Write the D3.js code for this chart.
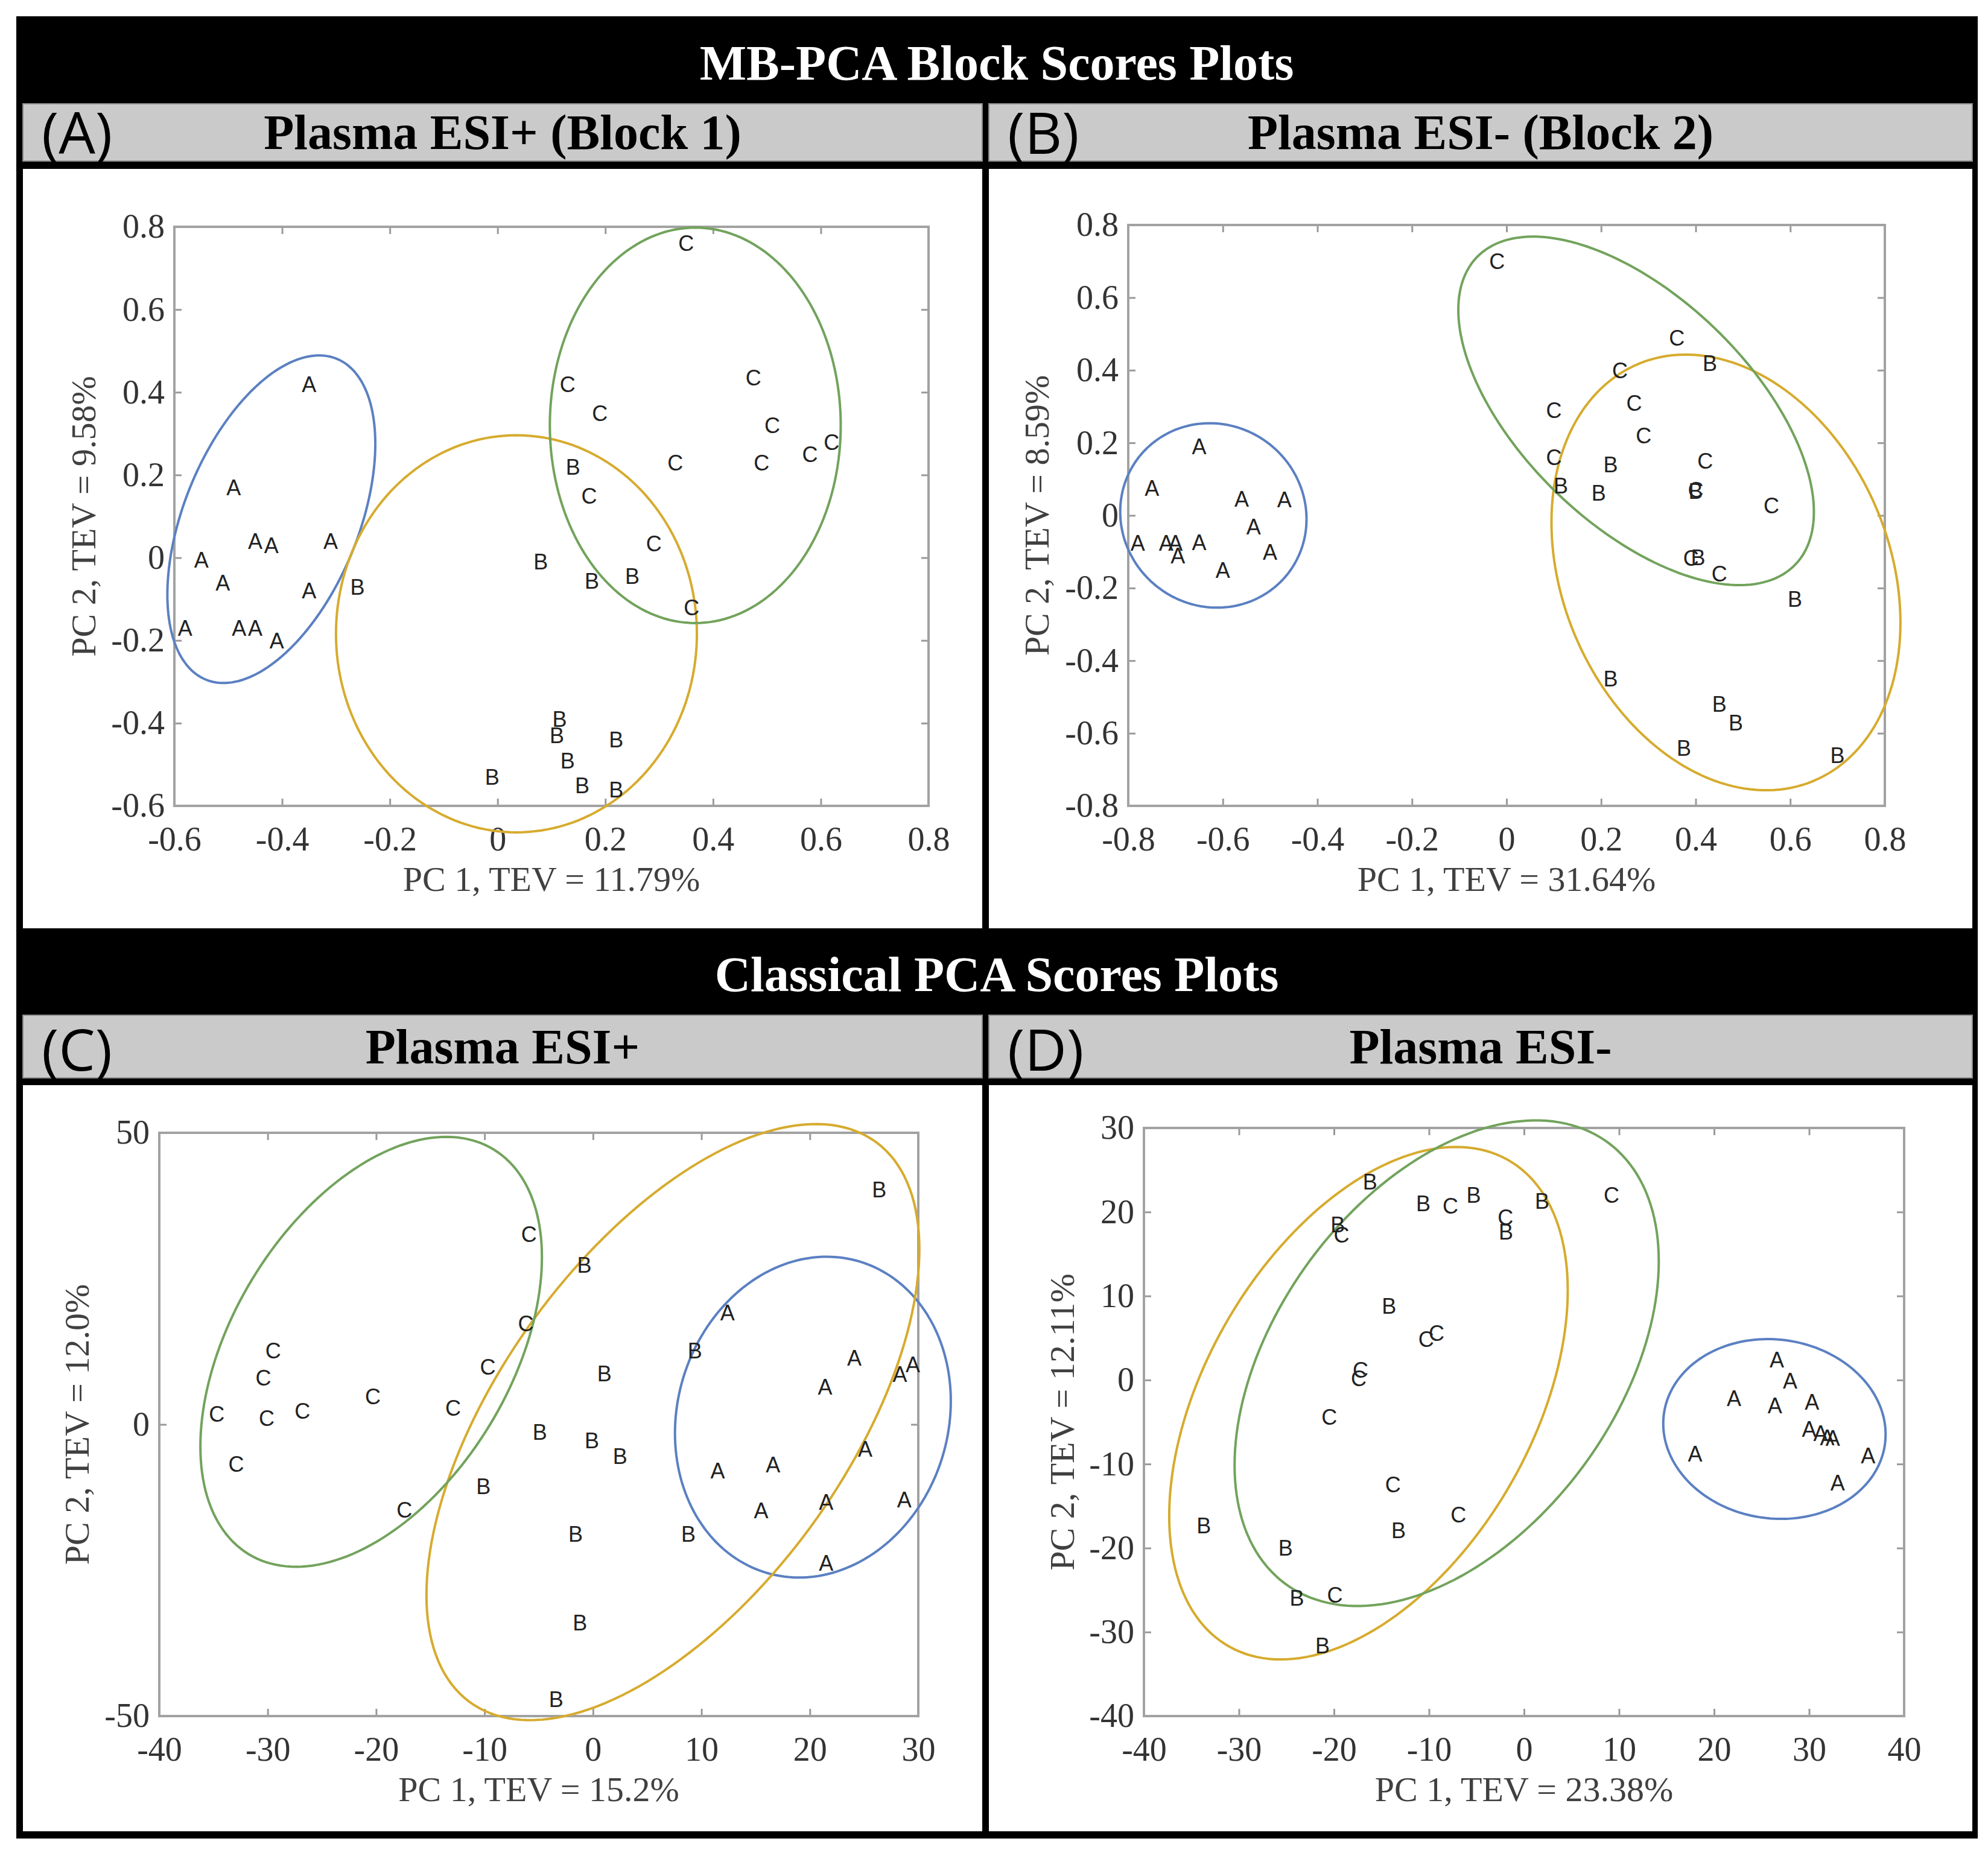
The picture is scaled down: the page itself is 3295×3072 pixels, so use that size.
<!DOCTYPE html>
<html>
<head>
<meta charset="utf-8">
<title>MB-PCA and Classical PCA Scores Plots</title>
<script src="https://d3js.org/d3.v7.min.js"></script>
<style>
  body { margin: 0; background: #fff; }
</style>
</head>
<body>
<svg id="fig" width="3295" height="3072"></svg>
<script>
// ---- data (letter centres) ----
// (A) MB-PCA, Plasma ESI+ (Block 1)
const blk1_A = [[-0.35,0.42],[-0.49,0.17],[-0.45,0.04],[-0.42,0.03],[-0.31,0.04],[-0.55,-0.005],[-0.51,-0.06],[-0.35,-0.08],[-0.58,-0.17],[-0.48,-0.17],[-0.45,-0.17],[-0.41,-0.20]];
const blk1_B = [[-0.26,-0.07],[0.08,-0.01],[0.14,0.22],[0.175,-0.056],[0.25,-0.044],[0.115,-0.39],[0.11,-0.43],[0.22,-0.44],[0.13,-0.49],[0.157,-0.55],[0.22,-0.56],[-0.01,-0.53]];
const blk1_C = [[0.35,0.76],[0.13,0.42],[0.19,0.35],[0.475,0.435],[0.51,0.32],[0.62,0.28],[0.58,0.25],[0.49,0.23],[0.33,0.23],[0.17,0.15],[0.29,0.035],[0.36,-0.12]];
// confidence ellipses: centre, half-width, half-height, correlation  (A, B, C groups)
const blk1_ell = [{cx:-0.42,cy:0.093,sx:0.193,sy:0.396,r:0.46},{cx:0.035,cy:-0.184,sx:0.335,sy:0.48,r:0.0},{cx:0.367,cy:0.32,sx:0.27,sy:0.478,r:0.0}];

// (B) MB-PCA, Plasma ESI- (Block 2)
const blk2_A = [[-0.65,0.19],[-0.75,0.075],[-0.56,0.046],[-0.47,0.044],[-0.535,-0.03],[-0.78,-0.075],[-0.72,-0.075],[-0.70,-0.075],[-0.695,-0.11],[-0.65,-0.074],[-0.50,-0.10],[-0.60,-0.15]];
const blk2_B = [[0.43,0.42],[0.22,0.14],[0.115,0.083],[0.195,0.062],[0.40,0.067],[0.405,-0.115],[0.61,-0.23],[0.22,-0.45],[0.45,-0.52],[0.485,-0.57],[0.375,-0.64],[0.70,-0.66]];
const blk2_C = [[-0.02,0.70],[0.36,0.49],[0.24,0.40],[0.10,0.29],[0.27,0.31],[0.29,0.22],[0.10,0.16],[0.42,0.15],[0.40,0.07],[0.56,0.027],[0.39,-0.118],[0.45,-0.16]];
const blk2_ell = [{cx:-0.62,cy:0.0,sx:0.197,sy:0.254,r:-0.04},{cx:0.464,cy:-0.157,sx:0.369,sy:0.60,r:-0.23},{cx:0.274,cy:0.288,sx:0.376,sy:0.48,r:-0.58}];

// (C) Classical PCA, Plasma ESI+
const cls1_A = [[12.4,19.2],[24.1,11.4],[21.4,6.5],[28.3,8.6],[29.5,10.3],[25.1,-4.2],[11.5,-7.9],[16.6,-6.9],[15.5,-14.7],[21.5,-13.3],[28.7,-12.9],[21.5,-23.7]];
const cls1_B = [[26.4,40.3],[-0.8,27.4],[9.4,12.7],[1.05,8.7],[-4.9,-1.3],[-0.1,-2.7],[2.5,-5.4],[-1.6,-18.8],[8.8,-18.8],[-1.2,-34.0],[-3.4,-47.1],[-10.1,-10.6]];
const cls1_C = [[-5.9,32.6],[-6.2,17.3],[-9.7,9.9],[-29.5,12.7],[-30.4,8.0],[-34.7,1.8],[-30.1,1.1],[-26.8,2.3],[-20.3,4.8],[-12.9,2.8],[-32.9,-6.8],[-17.4,-14.6]];
const cls1_ell = [{cx:20.28,cy:1.25,sx:12.72,sy:27.5,r:0.10},{cx:7.37,cy:0.4,sx:22.73,sy:51.1,r:0.58},{cx:-20.46,cy:12.45,sx:15.75,sy:36.85,r:0.44}];

// (D) Classical PCA, Plasma ESI-
const cls2_A = [[26.6,2.4],[28.0,-0.1],[22.1,-2.15],[26.4,-3.0],[30.3,-2.6],[30.0,-5.8],[31.2,-6.3],[31.9,-6.8],[32.5,-6.9],[18.0,-8.8],[36.2,-9.0],[33.0,-12.2]];
const cls2_B = [[-16.2,23.6],[-19.6,18.5],[-10.6,21.0],[-5.3,22.0],[-1.9,17.65],[1.9,21.3],[-14.2,8.8],[-13.2,-17.9],[-33.7,-17.3],[-25.1,-20.0],[-23.9,-25.9],[-21.2,-31.6]];
const cls2_C = [[-19.2,17.3],[-7.75,20.7],[-1.95,19.4],[9.2,22.0],[-10.3,4.9],[-9.2,5.6],[-17.4,0.2],[-17.2,1.2],[-20.5,-4.4],[-13.8,-12.4],[-6.9,-16.0],[-19.9,-25.6]];
const cls2_ell = [{cx:26.35,cy:-5.83,sx:11.7,sy:10.7,r:-0.06},{cx:-16.37,cy:-2.76,sx:20.97,sy:30.5,r:0.44},{cx:-8.14,cy:2.0,sx:22.32,sy:28.9,r:0.42}];

// ticks
const ticksA_x = [-0.6,-0.4,-0.2,0,0.2,0.4,0.6,0.8];
const ticksA_y = [-0.6,-0.4,-0.2,0,0.2,0.4,0.6,0.8];
const ticksB_x = [-0.8,-0.6,-0.4,-0.2,0,0.2,0.4,0.6,0.8];
const ticksB_y = [-0.8,-0.6,-0.4,-0.2,0,0.2,0.4,0.6,0.8];
const ticksC_x = [-40,-30,-20,-10,0,10,20,30];
const ticksC_y = [-50,0,50];
const ticksD_x = [-40,-30,-20,-10,0,10,20,30,40];
const ticksD_y = [-40,-30,-20,-10,0,10,20,30];

// text
const groupNames = ["A", "B", "C"];
const sectionTitles = ["MB-PCA Block Scores Plots", "Classical PCA Scores Plots"];
const panelTags = ["(A)", "(B)", "(C)", "(D)"];
const panelTitles = ["Plasma ESI+ (Block 1)", "Plasma ESI- (Block 2)", "Plasma ESI+", "Plasma ESI-"];
const xLabels = ["PC 1, TEV = 11.79%", "PC 1, TEV = 31.64%", "PC 1, TEV = 15.2%", "PC 1, TEV = 23.38%"];
const yLabels = ["PC 2, TEV = 9.58%", "PC 2, TEV = 8.59%", "PC 2, TEV = 12.0%", "PC 2, TEV = 12.11%"];

// ---- layout ----
const serif = "'Liberation Serif','Times New Roman',serif";
const sans = "'Liberation Sans',Arial,sans-serif";
const tagFont = "'Open Sans','Noto Sans',sans-serif";
const groupColors = ["#5b80c2", "#d6ab2e", "#72a35c"];

const svg = d3.select("#fig");
svg.append("rect").attr("width", 3295).attr("height", 3072).attr("fill", "#fff");
svg.append("rect").attr("x", 27).attr("y", 27).attr("width", 3251).attr("height", 3021).attr("fill", "#000");

const rows = [
    { titleY: 132, headTop: 172, headBot: 267, bodyTop: 280, bodyBot: 1539, tagY: 255, subY: 247 },
    { titleY: 1643, headTop: 1683, headBot: 1787, bodyTop: 1799, bodyBot: 3036, tagY: 1775, subY: 1763 }
];
const cols = [{ x0: 38, x1: 1628 }, { x0: 1639, x1: 3269 }];

rows.forEach(function (r, i) {
    svg.append("text")
        .attr("x", 1652).attr("y", r.titleY)
        .attr("text-anchor", "middle")
        .attr("font-family", serif).attr("font-weight", "bold").attr("font-size", 82)
        .attr("fill", "#fff")
        .text(sectionTitles[i]);
    cols.forEach(function (c) {
        svg.append("rect")
            .attr("x", c.x0).attr("y", r.headTop)
            .attr("width", c.x1 - c.x0).attr("height", r.headBot - r.headTop)
            .attr("fill", "#cacaca").attr("stroke", "#8a8a8a").attr("stroke-width", 2);
        svg.append("rect")
            .attr("x", c.x0).attr("y", r.bodyTop)
            .attr("width", c.x1 - c.x0).attr("height", r.bodyBot - r.bodyTop)
            .attr("fill", "#fff");
    });
});

// panel geometry
const panels = [
    { row: 0, col: 0, box: { l: 289, r: 1539, t: 376, b: 1336 }, xt: ticksA_x, yt: ticksA_y, groups: [blk1_A, blk1_B, blk1_C], ell: blk1_ell, yLabX: 137 },
    { row: 0, col: 1, box: { l: 1870, r: 3124, t: 373, b: 1336 }, xt: ticksB_x, yt: ticksB_y, groups: [blk2_A, blk2_B, blk2_C], ell: blk2_ell, yLabX: 1717 },
    { row: 1, col: 0, box: { l: 264, r: 1522, t: 1878, b: 2845 }, xt: ticksC_x, yt: ticksC_y, groups: [cls1_A, cls1_B, cls1_C], ell: cls1_ell, yLabX: 126 },
    { row: 1, col: 1, box: { l: 1896, r: 3156, t: 1870, b: 2845 }, xt: ticksD_x, yt: ticksD_y, groups: [cls2_A, cls2_B, cls2_C], ell: cls2_ell, yLabX: 1759 }
];

const fmt = d => String(d);

function ellipsePoints(e) {
    const delta = Math.acos(e.r);
    return d3.range(0, 361, 2).map(function (a) {
        const t = a * Math.PI / 180;
        return [e.cx + e.sx * Math.cos(t), e.cy + e.sy * Math.cos(t - delta)];
    });
}

function styleAxis(sel, showText) {
    sel.attr("font-family", serif).attr("font-size", 56).attr("color", "#333");
    sel.select(".domain").remove();
    sel.selectAll(".tick line").attr("stroke", "#9a9a9a").attr("stroke-width", 3);
    if (!showText) sel.selectAll(".tick text").remove();
}

panels.forEach(function (p, i) {
    const r = rows[p.row], c = cols[p.col], b = p.box;
    const g = svg.append("g");

    // header texts
    g.append("text")
        .attr("x", c.x0 + 31).attr("y", r.tagY)
        .attr("font-family", tagFont).attr("font-size", 96).attr("fill", "#000")
        .text(panelTags[i]);
    g.append("text")
        .attr("x", (c.x0 + c.x1) / 2).attr("y", r.subY)
        .attr("text-anchor", "middle")
        .attr("font-family", serif).attr("font-weight", "bold").attr("font-size", 82).attr("fill", "#000")
        .text(panelTitles[i]);

    const x = d3.scaleLinear().domain(d3.extent(p.xt)).range([b.l, b.r]);
    const y = d3.scaleLinear().domain(d3.extent(p.yt)).range([b.b, b.t]);

    // axes, ticks pointing inward on all four sides
    g.append("g").attr("transform", `translate(0,${b.b})`)
        .call(d3.axisBottom(x).tickValues(p.xt).tickSize(-12).tickPadding(34).tickFormat(fmt))
        .call(s => styleAxis(s, true));
    g.append("g").attr("transform", `translate(${b.l},0)`)
        .call(d3.axisLeft(y).tickValues(p.yt).tickSize(-12).tickPadding(16).tickFormat(fmt))
        .call(s => styleAxis(s, true));
    g.append("g").attr("transform", `translate(0,${b.t})`)
        .call(d3.axisTop(x).tickValues(p.xt).tickSize(-12))
        .call(s => styleAxis(s, false));
    g.append("g").attr("transform", `translate(${b.r},0)`)
        .call(d3.axisRight(y).tickValues(p.yt).tickSize(-12))
        .call(s => styleAxis(s, false));

    g.append("rect")
        .attr("x", b.l).attr("y", b.t).attr("width", b.r - b.l).attr("height", b.b - b.t)
        .attr("fill", "none").attr("stroke", "#a2a2a2").attr("stroke-width", 4);

    // axis labels
    g.append("text")
        .attr("x", (b.l + b.r) / 2).attr("y", b.b + 141)
        .attr("text-anchor", "middle")
        .attr("font-family", serif).attr("font-size", 58).attr("fill", "#404040")
        .text(xLabels[i]);
    g.append("text")
        .attr("transform", `translate(${p.yLabX},${(b.t + b.b) / 2}) rotate(-90)`)
        .attr("text-anchor", "middle").attr("dy", "0.36em")
        .attr("font-family", serif).attr("font-size", 58).attr("fill", "#404040")
        .text(yLabels[i]);

    // ellipses
    const line = d3.line().x(d => x(d[0])).y(d => y(d[1]));
    g.append("g").selectAll("path")
        .data(p.ell)
        .join("path")
        .attr("d", e => line(ellipsePoints(e)))
        .attr("fill", "none")
        .attr("stroke", (e, k) => groupColors[k])
        .attr("stroke-width", 4);

    // score letters
    p.groups.forEach(function (pts, k) {
        g.append("g").selectAll("text")
            .data(pts)
            .join("text")
            .attr("x", d => x(d[0]))
            .attr("y", d => y(d[1]))
            .attr("dy", "0.36em")
            .attr("text-anchor", "middle")
            .attr("font-family", sans).attr("font-size", 36).attr("fill", "#222")
            .text(groupNames[k]);
    });
});
</script>
</body>
</html>
